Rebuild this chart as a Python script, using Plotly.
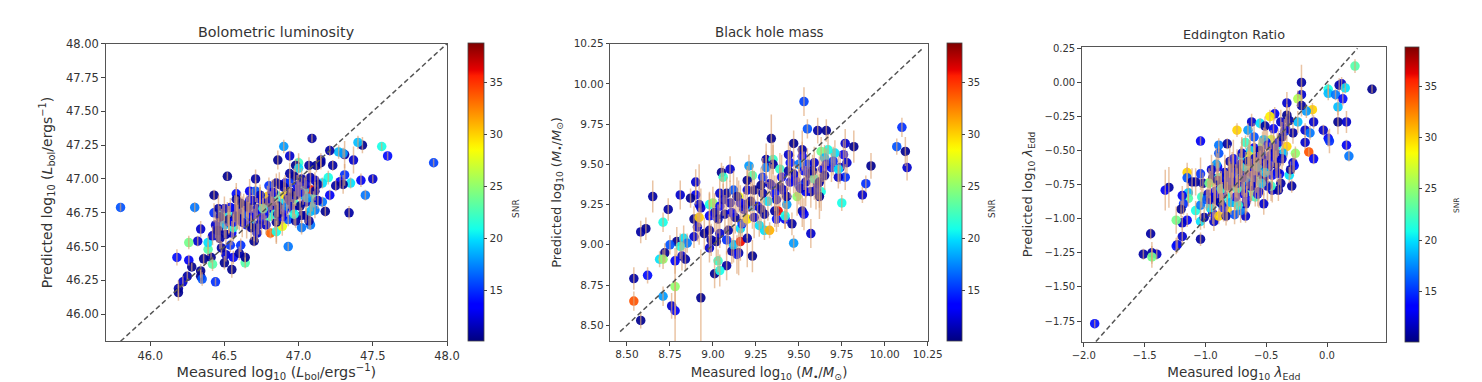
import plotly.graph_objects as go

# bolometric luminosity
lbol_x = [45.80,47.91,47.60,47.56,47.50,47.45,47.34,47.43,47.40,47.42,
          47.37,47.35,47.31,47.31,47.27,47.30,47.28,47.25,47.30,47.21,
          47.21,47.23,47.20,47.16,47.18,47.16,47.09,47.15,47.12,47.15,
          47.07,47.00,46.98,47.00,46.94,46.90,46.86,46.52,46.71,46.30,
          46.43,46.34,46.32,46.26,46.18,46.26,46.28,46.36,46.41,46.42,
          46.34,46.34,46.35,46.44,46.25,46.22,46.19,46.19,46.50,46.55,
          46.51,46.56,46.64,46.64,46.60,46.61,46.54,46.48,46.39,46.39,
          46.70,46.81,46.85,46.89,46.93,46.93,47.02,47.08,47.07,46.98,
          47.02,47.05,47.11,47.08,47.11,47.10,47.09,47.05,47.02,47.08,
          47.11,46.97,46.94,46.91,46.85,46.80,46.67,46.71,46.58,46.58,
          46.63,46.76,46.79,46.91,46.85,46.43,46.46,46.42,46.45,46.48,
          46.50,46.52,46.55,46.57,46.60,46.62,46.65,46.68,46.70,46.72,
          46.75,46.78,46.80,46.82,46.85,46.88,46.90,46.93,46.95,46.97,
          47.00,47.03,46.44,46.47,46.49,46.53,46.56,46.59,46.61,46.66,
          46.69,46.73,46.74,46.77,46.81,46.84,46.87,46.92,46.96,46.99,
          47.01,47.04,46.51,46.54,46.58,46.63,46.67,46.72,46.76,46.83,
          46.86,46.89,46.94,46.98,47.06,47.13,46.46,46.53,46.66,46.74,
          46.47,46.50,46.53,46.56,46.59,46.62,46.65,46.68,46.71,46.74,
          46.78,46.82,46.86,46.90,46.94,46.97,47.01,47.05,47.08,47.13]
lbol_y = [46.79,47.12,47.17,47.24,47.00,46.88,46.75,47.25,47.27,46.99,
          47.14,46.97,47.03,47.18,47.20,47.19,46.98,46.95,46.96,46.88,
          47.21,47.10,47.01,46.97,46.76,46.83,47.30,47.12,47.10,47.14,
          47.10,47.12,47.10,47.08,47.17,47.24,47.14,47.02,47.00,46.79,
          46.88,46.63,46.54,46.53,46.42,46.40,46.35,46.41,46.42,46.37,
          46.32,46.28,46.26,46.24,46.28,46.24,46.19,46.16,46.38,46.33,
          46.44,46.42,46.38,46.42,46.45,46.51,46.51,46.49,46.48,46.53,
          46.54,46.60,46.61,46.65,46.50,46.70,46.64,46.66,46.69,46.69,
          46.73,46.73,46.77,46.92,46.91,46.85,46.82,46.83,47.00,47.01,
          46.99,47.02,47.04,46.97,46.97,46.95,46.91,46.91,46.89,46.85,
          46.80,46.83,46.87,46.88,46.88,46.75,46.78,46.58,46.62,46.70,
          46.66,46.74,46.60,46.78,46.70,46.76,46.66,46.72,46.66,46.78,
          46.70,46.82,46.72,46.78,46.68,46.82,46.76,46.86,46.90,46.82,
          46.92,46.88,46.66,46.56,46.74,46.68,46.64,46.76,46.82,46.74,
          46.84,46.66,46.88,46.74,46.84,46.74,46.96,46.80,46.78,46.95,
          46.80,46.92,46.59,46.79,46.73,46.72,46.84,46.60,46.78,46.90,
          46.80,46.72,46.97,46.88,46.86,46.84,46.62,46.70,46.79,46.85,
          46.72,46.78,46.70,46.68,46.72,46.68,46.80,46.64,46.74,46.88,
          46.66,46.90,46.74,46.94,46.84,46.74,46.90,46.96,46.76,46.96]
lbol_err = [.03,.03,.03,.03,.03,.04,.05,.06,.05,.05,
            .10,.04,.08,.10,.05,.04,.05,.04,.07,.04,
            .04,.04,.05,.04,.04,.04,.03,.05,.05,.05,
            .06,.07,.05,.08,.04,.05,.07,.03,.07,.04,
            .04,.06,.04,.05,.06,.04,.03,.04,.04,.05,
            .05,.05,.05,.03,.04,.04,.06,.06,.05,.06,
            .05,.05,.04,.04,.05,.05,.05,.05,.05,.05,
            .04,.04,.08,.07,.03,.05,.05,.03,.06,.05,
            .06,.06,.06,.05,.07,.06,.06,.08,.08,.06,
            .06,.06,.08,.06,.07,.06,.09,.08,.08,.09,
            .09,.08,.08,.06,.07,.07,.10,.07,.09,.08,
            .10,.09,.09,.10,.08,.11,.10,.09,.12,.08,
            .11,.07,.10,.09,.16,.08,.09,.08,.07,.09,
            .08,.07,.10,.08,.07,.09,.10,.11,.08,.09,
            .09,.07,.06,.08,.07,.12,.09,.08,.07,.08,
            .07,.09,.08,.07,.11,.08,.09,.07,.08,.10,
            .08,.09,.07,.08,.07,.06,.09,.10,.08,.09,
            .08,.09,.10,.08,.09,.11,.08,.09,.07,.08,
            .07,.09,.08,.07,.09,.08,.08,.07,.07,.06]
lbol_snr = [16,15.5,14,21,12,17,11,10.5,19,13,
            12,20,15,11,19,18,13,11,10.5,13,
            11,11,21,20,10.5,17,11,10.5,10.5,11,
            11,22,10.5,20,12,18,10.5,10.5,11,17,
            10.5,12,12,24,14,13,10.5,10.5,10.5,23,
            10.5,10.5,16,15,11,12,11,10.5,10.5,10.5,
            12,13,23,10.5,11,15,15,11,23,20,
            10.5,33.5,21,28,17,16,17,17,11,11,
            11,11,17,36,11,21,19,12,11,11,
            12,10.5,11,13,11,15,13,16,14,11,
            30,28,30,29,22,15,11,12,11,14,
            19,21,13,11,12,17,14,11,18,12,
            13,11,22,12,10.5,20,14,12,11,22,
            13,18,12,11,20,13,21,12,10.5,14,
            11,12,18,13,12,21,11,17,12,13,
            10.5,19,11,14,12,16,13,12,21,11,
            11,13,15,10.5,18,12,11,20,12,13,
            11,12,10.5,13,11,12,11,10.5,13,12,
            12,13,11,11,12,21,13,12,19,11]

# black hole mass
mbh_x = [9.53,9.55,9.61,9.66,10.10,10.07,10.12,10.13,9.92,9.89,
         9.87,9.82,9.77,9.78,9.77,9.75,9.73,9.76,9.71,9.67,
         9.63,9.65,9.74,9.69,9.64,9.65,9.63,9.62,9.61,9.57,
         9.54,9.57,9.47,9.46,9.52,9.53,9.34,9.47,9.52,9.44,
         9.52,9.31,9.35,9.21,9.10,9.05,9.06,9.23,9.20,8.90,
         8.81,8.90,8.87,8.65,8.74,8.71,8.61,8.58,8.89,8.93,
         8.92,8.91,8.95,8.89,8.79,8.75,8.83,8.85,8.81,8.72,
         8.69,8.71,8.82,8.78,8.84,8.54,8.62,8.78,8.71,8.54,
         8.76,8.78,8.58,8.93,9.01,9.08,9.04,9.03,8.98,9.02,
         8.99,9.11,9.12,9.15,9.14,9.23,9.16,9.20,9.08,9.09,
         9.16,9.17,9.13,9.20,9.24,9.27,9.30,9.33,9.30,9.37,
         9.38,9.36,9.42,9.42,9.43,9.49,9.43,9.37,9.32,9.29,
         9.23,9.19,9.15,9.08,9.04,8.98,9.00,9.01,8.98,9.04,
         9.07,9.10,9.16,9.20,9.24,9.12,9.29,9.31,9.35,9.39,
         9.40,9.45,9.47,9.50,9.55,9.56,9.59,9.59,9.62,9.54,
         9.50,9.45,9.39,9.34,9.28,8.98,9.04,8.92,
         9.03,9.06,9.11,9.14,9.18,9.22,9.26,9.28,9.33,9.36,
         9.41,9.44,9.48,9.51,9.53,9.58,9.60,9.66,9.70,9.73]
mbh_y = [9.89,9.72,9.71,9.71,9.73,9.61,9.58,9.48,9.49,9.38,
         9.31,9.61,9.63,9.51,9.42,9.26,9.42,9.56,9.57,9.59,
         9.58,9.54,9.48,9.48,9.47,9.43,9.33,9.30,9.38,9.33,
         9.33,9.07,9.01,9.13,9.21,9.19,9.66,9.63,9.59,9.56,
         9.55,9.53,9.53,9.49,9.47,9.45,9.42,9.43,9.40,9.39,
         9.31,9.31,9.29,9.30,9.22,9.14,9.10,9.08,9.16,9.23,
         9.17,9.11,9.07,9.05,9.02,9.00,9.04,9.01,8.99,8.95,
         8.91,8.91,8.93,8.90,8.91,8.79,8.81,8.74,8.68,8.65,
         8.62,8.59,8.53,8.67,8.82,8.87,8.84,8.90,8.98,9.02,
         9.03,8.96,9.00,8.95,8.94,8.93,9.02,9.04,9.03,9.09,
         9.10,9.13,9.17,9.16,9.17,9.12,9.09,9.09,9.19,9.16,
         9.21,9.21,9.16,9.18,9.25,9.30,9.30,9.28,9.27,9.32,
         9.24,9.25,9.30,9.32,9.32,9.25,9.26,9.20,9.18,9.24,
         9.19,9.26,9.26,9.34,9.34,9.34,9.42,9.48,9.50,9.47,
         9.42,9.51,9.44,9.50,9.50,9.44,9.51,9.41,9.39,9.39,
         9.37,9.39,9.36,9.37,9.37,9.09,9.07,9.25,
         9.16,9.28,9.20,9.30,9.22,9.27,9.24,9.22,9.38,9.32,
         9.34,9.46,9.40,9.35,9.46,9.46,9.34,9.50,9.52,9.47]
mbh_err = [.09,.06,.08,.07,.06,.05,.09,.08,.08,.05,
           .05,.10,.09,.07,.08,.05,.07,.09,.08,.10,
           .09,.08,.10,.09,.08,.09,.12,.14,.10,.10,
           .09,.09,.05,.07,.10,.10,.15,.08,.12,.08,
           .09,.10,.09,.07,.08,.06,.07,.07,.09,.08,
           .09,.06,.06,.10,.07,.06,.07,.07,.08,.12,
           .06,.09,.10,.07,.09,.06,.08,.06,.08,.06,
           .05,.06,.09,.08,.07,.07,.05,.20,.06,.06,
           .08,.20,.05,.30,.09,.09,.10,.07,.09,.12,
           .10,.08,.11,.14,.12,.10,.12,.18,.09,.10,
           .08,.08,.10,.12,.13,.07,.06,.05,.10,.08,
           .10,.10,.06,.08,.11,.12,.10,.15,.12,.12,
           .14,.13,.10,.10,.09,.08,.10,.12,.14,.10,
           .12,.14,.11,.13,.12,.12,.12,.10,.14,.10,
           .14,.10,.12,.11,.10,.12,.10,.13,.16,.10,
           .12,.10,.12,.13,.11,.09,.09,.25,
           .09,.10,.09,.12,.11,.12,.11,.12,.13,.11,
           .11,.12,.10,.11,.12,.10,.12,.10,.09,.08]
mbh_snr = [15.5,16,11,10.5,15,16,10.5,12,10.5,15,
           12,10.5,12,12,15,21,12,13,20,21,
           24,19,12,14,13,11,21,10.5,12,11,
           13,12,18,11,11,13,10.5,10.5,11,12,
           13,11,22,18,12,10.5,22,23,10.5,12,
           12,13,10.5,11,11,21,10.5,11,10.5,12,
           30,12,10.5,12,10.5,16,20,17,21,10.5,
           20,25,12,13,11,11,14,25,18,34,
           12,13,10.5,10.5,10.5,11,21,22,12,10.5,
           11,11,19,11,14,10.5,36,11,15,11,
           20,15,11,29,12,20,20,31,11,14,
           36,11,13,21,18,25,11,12,20,11,
           18,12,28,11,12,21,25,11,13,13,
           11,12,13,12,10.5,16,15,17,11,22,
           13,14,12,17,15,11,12,22,11,12,
           15,13,10.5,14,10.5,11,12,12,
           11,12,13,11,12,10.5,13,11,12,14,
           12,11,13,12,14,11,12,13,15,20]

# eddington ratio
edd_x = [-1.91,0.23,0.37,-0.21,-0.21,0.01,0.01,0.07,0.10,0.12,
         0.15,0.13,0.09,0.09,0.16,0.16,0.18,0.01,0.02,-0.03,
         -0.12,-0.11,-0.18,-0.14,-0.18,-0.15,-0.11,-0.33,-0.24,-0.43,
         -0.47,-0.17,-0.21,-0.24,-0.62,-0.55,-0.74,-0.65,-0.51,-0.44,
         -0.38,-0.33,-0.35,-0.28,-1.04,-0.89,-0.82,-0.89,-0.67,-0.60,
         -0.46,-0.26,-0.33,-0.36,-0.28,-0.27,-0.31,-0.30,-0.29,-0.38,
         -0.39,-0.41,-0.45,-0.40,-0.52,-1.15,-1.15,-1.11,-1.08,-1.04,
         -0.96,-1.02,-1.30,-1.33,-1.14,-1.14,-1.19,-1.18,-1.20,-1.08,
         -1.04,-1.03,-1.15,-1.19,-1.24,-1.04,-1.01,-0.93,-0.94,-0.89,
         -0.82,-0.83,-0.76,-0.67,-0.71,-0.67,-0.59,-0.63,-1.19,-1.04,
         -1.23,-1.24,-1.45,-1.51,-1.44,-1.40,-1.44,-0.98,-0.96,-0.94,
         -0.92,-0.90,-0.88,-0.86,-0.84,-0.82,-0.80,-0.78,-0.76,-0.74,
         -0.72,-0.70,-0.68,-0.66,-0.64,-0.62,-0.60,-0.58,-0.56,-0.54,
         -0.52,-0.50,-0.48,-0.46,-0.44,-0.42,-0.97,-0.93,-0.91,-0.87,
         -0.85,-0.81,-0.79,-0.77,-0.75,-0.73,-0.71,-0.69,-0.65,-0.63,
         -0.61,-0.59,-0.57,-0.55,-0.53,-0.49,-0.47,-0.43,-0.99,-0.95,
         -0.89,-0.83,-0.78,-0.72,-0.68,-0.64,-0.58,-0.54,-0.50,-0.45,
         -0.41,-0.37,-0.86,-0.80,-0.74,-0.70,-0.66,-0.60,-0.56,-0.52,
         -0.96,-0.92,-0.90,-0.87,-0.84,-0.82,-0.79,-0.77,-0.74,-0.72,
         -0.70,-0.67,-0.65,-0.62,-0.60,-0.57,-0.55,-0.52,-0.49,-0.47,
         -0.44,-0.40,-0.37,-0.34,-0.31,-0.88,-0.75,-0.63,-0.51,-0.42]
edd_y = [-1.77,0.12,-0.05,0.00,-0.09,-0.05,-0.08,-0.09,-0.02,-0.01,
         -0.04,-0.12,-0.18,-0.29,-0.29,-0.46,-0.54,-0.41,-0.43,-0.35,
         -0.20,-0.29,-0.35,-0.37,-0.44,-0.51,-0.56,-0.15,-0.12,-0.23,
         -0.25,-0.21,-0.17,-0.29,-0.29,-0.30,-0.35,-0.35,-0.32,-0.34,
         -0.29,-0.24,-0.36,-0.37,-0.43,-0.46,-0.45,-0.52,-0.44,-0.40,
         -0.42,-0.52,-0.47,-0.52,-0.59,-0.61,-0.68,-0.64,-0.76,-0.74,
         -0.67,-0.66,-0.79,-0.79,-0.89,-0.66,-0.70,-0.73,-0.73,-0.67,
         -0.73,-0.74,-0.77,-0.79,-0.81,-0.85,-0.83,-0.89,-0.93,-0.94,
         -0.90,-0.84,-1.01,-1.03,-1.01,-1.02,-0.99,-1.02,-0.96,-0.98,
         -0.94,-0.98,-0.97,-0.98,-0.94,-0.89,-0.84,-0.81,-1.13,-1.15,
         -1.19,-1.20,-1.11,-1.26,-1.25,-1.26,-1.28,-0.82,-0.92,-0.70,
         -0.86,-0.62,-0.78,-0.90,-0.66,-0.84,-0.58,-0.76,-0.88,-0.62,
         -0.80,-0.54,-0.72,-0.86,-0.58,-0.76,-0.48,-0.68,-0.80,-0.52,
         -0.70,-0.44,-0.62,-0.76,-0.50,-0.60,-0.74,-0.84,-0.60,-0.76,
         -0.92,-0.68,-0.88,-0.56,-0.72,-0.90,-0.60,-0.78,-0.66,-0.50,
         -0.72,-0.56,-0.82,-0.62,-0.46,-0.76,-0.58,-0.50,-0.86,-0.64,
         -0.70,-0.74,-0.64,-0.68,-0.82,-0.54,-0.66,-0.74,-0.56,-0.68,
         -0.46,-0.56,-0.82,-0.70,-0.78,-0.52,-0.72,-0.62,-0.54,-0.42,
         -0.86,-0.80,-0.72,-0.78,-0.70,-0.76,-0.72,-0.66,-0.74,-0.64,
         -0.70,-0.62,-0.58,-0.66,-0.56,-0.62,-0.50,-0.58,-0.46,-0.54,
         -0.48,-0.44,-0.40,-0.34,-0.28,-0.88,-0.84,-0.76,-0.66,-0.54]
edd_err = [.03,.05,.03,.13,.06,.04,.05,.04,.05,.05,
           .04,.05,.06,.09,.08,.04,.04,.06,.09,.04,
           .05,.05,.05,.05,.05,.03,.04,.08,.06,.05,
           .05,.05,.08,.08,.06,.04,.05,.05,.07,.08,
           .09,.08,.09,.08,.03,.05,.04,.05,.05,.10,
           .07,.05,.08,.09,.07,.06,.06,.06,.05,.07,
           .08,.07,.09,.08,.08,.07,.08,.10,.10,.12,
           .08,.08,.15,.15,.07,.06,.07,.08,.06,.07,
           .10,.08,.05,.05,.10,.06,.08,.07,.08,.06,
           .08,.07,.07,.05,.09,.08,.07,.08,.06,.05,
           .06,.06,.04,.04,.08,.04,.08,.10,.09,.11,
           .12,.10,.11,.09,.13,.11,.12,.10,.12,.13,
           .11,.14,.12,.10,.13,.11,.12,.13,.12,.11,
           .13,.10,.12,.11,.12,.10,.11,.10,.12,.11,
           .10,.13,.09,.14,.12,.09,.13,.10,.12,.13,
           .11,.12,.09,.12,.10,.11,.10,.09,.08,.11,
           .12,.10,.13,.11,.09,.12,.11,.10,.12,.10,
           .09,.08,.09,.12,.10,.11,.12,.11,.12,.09,
           .12,.11,.13,.12,.13,.11,.12,.13,.11,.12,
           .13,.11,.12,.10,.12,.11,.10,.12,.11,.10,
           .09,.10,.11,.09,.10,.11,.10,.11,.10,.09]
edd_snr = [14,23,10.5,11,12,21,19,17,11,12,
           20,14,19,10.5,12,13,17,13,15,12,
           30,12,12,17,12,34,13,12,26,13,
           29,18,11,19,12,20,30,18,11,13,
           12,10.5,15,11,13,17,11,16,22,16,
           27,25,30,19,12,14,20,11,11,11,
           13,12,12,11,12,30,16,11,11,15,
           29,11,11,13,19,23,13,15,10.5,21,
           17,22,13,12,24,20,11,12,13,30,
           29,11,16,12,17,12,22,23,12,11,
           12,14,11,11,11,12,24,12,20,11,
           15,13,11,18,12,21,11,13,17,12,
           10.5,19,12,14,22,11,13,20,12,16,
           11,13,12,22,16,11,24,12,18,11,
           14,12,19,13,11,21,12,15,11,20,
           12,17,13,11,23,12,14,11,16,12,
           21,12,11,18,13,27,12,19,11,14,
           20,12,13,11,22,12,17,11,13,19,
           12,13,11,21,12,11,13,14,12,11,
           12,20,11,13,12,18,11,12,14,13,
           12,13,11,12,11,11,13,12,19,12]

line_lims = [[45.80,48.00],[8.46,10.22],[-1.90,0.25]]
titles = ["Bolometric luminosity","Black hole mass","Eddington Ratio"]
xlabels = ["Measured log<sub>10</sub> (<i>L</i><sub>bol</sub>/ergs<sup>−1</sup>)",
           "Measured log<sub>10</sub> (<i>M</i><sub>•</sub>/<i>M</i><sub>⊙</sub>)",
           "Measured log<sub>10</sub> <i>λ</i><sub>Edd</sub>"]
ylabels = ["Predicted log<sub>10</sub> (<i>L</i><sub>bol</sub>/ergs<sup>−1</sup>)",
           "Predicted log<sub>10</sub> (<i>M</i><sub>•</sub>/<i>M</i><sub>⊙</sub>)",
           "Predicted log<sub>10</sub> <i>λ</i><sub>Edd</sub>"]
snr_ticks = [15,20,25,30,35]

W, H = 1482, 382
# the default template turns automargin on, it is switched off on the axes below
ML, MR, MT, MB = 60, 70, 30, 36
PH = H-MT-MB
def fx(px):
    return (px-ML)/(W-ML-MR)
def fy(px):
    return 1-(px-MT)/PH

# matplotlib jet, the plotly one is a bit different
jet = [[0,"rgb(0,0,127)"],[0.11,"rgb(0,0,255)"],[0.125,"rgb(0,0,255)"],[0.34,"rgb(0,220,255)"],
       [0.375,"rgb(20,255,235)"],[0.64,"rgb(250,255,5)"],[0.66,"rgb(255,240,0)"],[0.89,"rgb(255,30,0)"],
       [0.91,"rgb(230,0,0)"],[1,"rgb(127,0,0)"]]
ink = "#333333"

# left, right, top, bottom in px, then the colorbar left/right
boxes = [(105.7,447,43.7,341.3,468,484),
         (610.3,927.7,43.7,341.3,947.3,962.7),
         (1081.7,1386,47,342,1405,1419)]
xranges = [[45.70,48.00],[8.403,10.25],[-2.017,0.485]]
yranges = [[45.80,48.00],[8.40,10.25],[-1.904,0.26]]
xdticks = [(46,0.5,".1f"),(8.5,0.25,".2f"),(-2,0.5,".1f")]
ydticks = [(46,0.25,".2f"),(8.5,0.25,".2f"),(-1.75,0.25,".2f")]
tick_sizes = [11.5,10.5,10]
cbar_sizes = [10.5,10,10]
xlabel_sizes = [14.4,13.3,13.5]
ylabel_sizes = [14,13,13]
title_sizes = [14.3,13.4,12.8]
title_y = [32,32,35]
xstand = [13,9,8]
ystand = [10,9,8]
snr_x = [516,992,1457]
snr_y = [209,209,205]
snr_sizes = [9,9,7.5]

data = [(lbol_x,lbol_y,lbol_err,lbol_snr),(mbh_x,mbh_y,mbh_err,mbh_snr),(edd_x,edd_y,edd_err,edd_snr)]

fig = go.Figure()
annots = []
layout = {}
for i in range(3):
    xs, ys, errs, snr = data[i]
    l, r, t, b, cl, cr = boxes[i]
    xa = "x" if i == 0 else "x%d" % (i+1)
    ya = "y" if i == 0 else "y%d" % (i+1)
    xkey = "xaxis" if i == 0 else "xaxis%d" % (i+1)
    ykey = "yaxis" if i == 0 else "yaxis%d" % (i+1)

    fig.add_trace(go.Scatter(x=xs, y=ys, mode="markers", xaxis=xa, yaxis=ya, showlegend=False,
        marker=dict(size=9.5, color=snr, colorscale=jet, cmin=10.1, cmax=38.8, opacity=0.92,
            colorbar=dict(x=fx(cl), xanchor="left", xpad=0, ypad=0, y=fy(b), yanchor="bottom",
                len=fy(t)-fy(b), lenmode="fraction", thickness=cr-cl, thicknessmode="pixels",
                tickvals=snr_ticks, ticks="outside", ticklen=3.5, tickwidth=0.8, tickcolor="#444444",
                tickfont=dict(size=cbar_sizes[i], color=ink), outlinewidth=0.8, outlinecolor="#444444"))))
    # second trace so the error bars sit over the dots like in the original
    fig.add_trace(go.Scatter(x=xs, y=ys, mode="markers", xaxis=xa, yaxis=ya, showlegend=False,
        marker=dict(size=1, opacity=0), hoverinfo="skip",
        error_y=dict(type="data", array=errs, visible=True, color="rgba(222,165,115,0.65)", thickness=1.5, width=0)))
    fig.add_trace(go.Scatter(x=line_lims[i], y=line_lims[i], mode="lines", xaxis=xa, yaxis=ya, showlegend=False,
        line=dict(color="#555555", width=1.5, dash="5px,3px")))

    layout[xkey] = dict(domain=[fx(l), fx(r)], range=xranges[i], anchor=ya, tick0=xdticks[i][0], dtick=xdticks[i][1],
        tickformat=xdticks[i][2], ticks="outside", ticklen=3.5, tickwidth=0.8, tickcolor="#444444", automargin=False,
        showgrid=False, zeroline=False, mirror=True, showline=True, linecolor="#555555", linewidth=1,
        tickfont=dict(size=tick_sizes[i], color=ink),
        title=dict(text=xlabels[i], font=dict(size=xlabel_sizes[i], color=ink), standoff=xstand[i]))
    layout[ykey] = dict(domain=[fy(b), fy(t)], range=yranges[i], anchor=xa, tick0=ydticks[i][0], dtick=ydticks[i][1],
        tickformat=ydticks[i][2], ticks="outside", ticklen=3.5, tickwidth=0.8, tickcolor="#444444", automargin=False,
        showgrid=False, zeroline=False, mirror=True, showline=True, linecolor="#555555", linewidth=1,
        tickfont=dict(size=tick_sizes[i], color=ink),
        title=dict(text=ylabels[i], font=dict(size=ylabel_sizes[i], color=ink), standoff=ystand[i]))

    annots.append(dict(text=titles[i], xref="paper", yref="paper", x=fx((l+r)/2), y=fy(title_y[i]),
        showarrow=False, xanchor="center", yanchor="middle", font=dict(size=title_sizes[i], color=ink)))
    annots.append(dict(text="SNR", xref="paper", yref="paper", x=fx(snr_x[i]), y=fy(snr_y[i]),
        showarrow=False, xanchor="center", yanchor="middle", textangle=-90, font=dict(size=snr_sizes[i], color=ink)))

fig.update_layout(width=W, height=H, margin=dict(l=ML, r=MR, t=MT, b=MB), paper_bgcolor="white", plot_bgcolor="white",
    font=dict(family="DejaVu Sans", color=ink), annotations=annots, showlegend=False, **layout)

fig.write_html("out.html", config={"displayModeBar": False}, post_script="document.body.style.margin='0';")
